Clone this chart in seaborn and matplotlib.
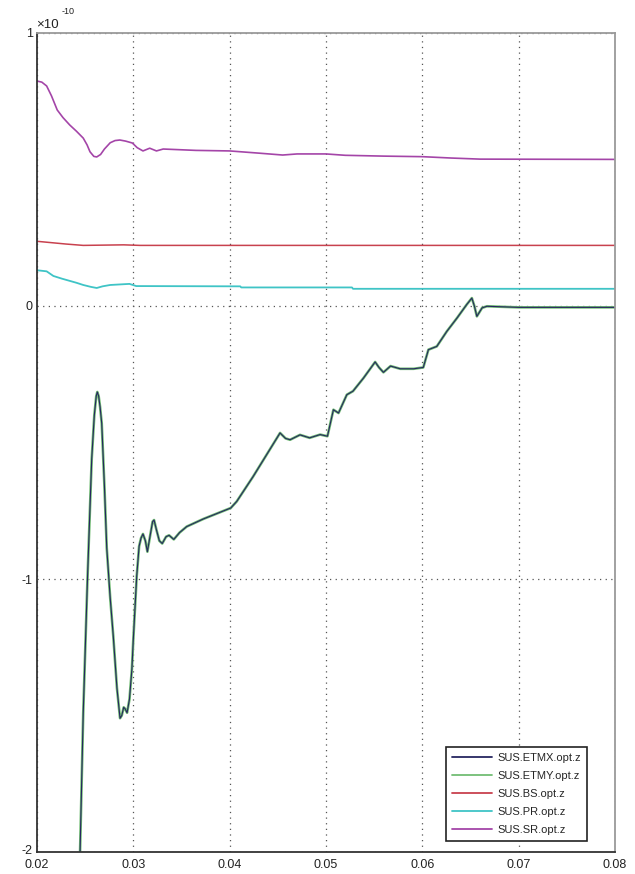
import numpy as np
import pandas as pd
import matplotlib
matplotlib.use("Agg")
import matplotlib.pyplot as plt
import matplotlib.transforms as mtransforms
import seaborn as sns

# Optical-lever z readings, in units of 1e-10
scale = 1e-10

etm_t = [0.02430, 0.02447, 0.02480, 0.02524, 0.02568, 0.02595, 0.02615, 0.02626,
         0.02640, 0.02655, 0.02672, 0.02700, 0.02724, 0.02760, 0.02792, 0.02830,
         0.02862, 0.02880, 0.02900, 0.02914, 0.02935, 0.02960, 0.02985, 0.03000,
         0.03035, 0.03060, 0.03080, 0.03100, 0.03125, 0.03146, 0.03175, 0.03200,
         0.03215, 0.03240, 0.03270, 0.03300, 0.03340, 0.03371, 0.03420, 0.03480,
         0.03554, 0.03727, 0.04011, 0.04073, 0.04243, 0.04523, 0.04580, 0.04627,
         0.04730, 0.04830, 0.04939, 0.05015, 0.05077, 0.05130, 0.05216, 0.05280,
         0.05389, 0.05510, 0.05550, 0.05596, 0.05670, 0.05770, 0.05910, 0.06010,
         0.06063, 0.06150, 0.06254, 0.06360, 0.06460, 0.06514, 0.06540, 0.06566,
         0.06620, 0.06670, 0.07000, 0.08000]
etmy_z = [-2.30, -2.00, -1.49, -1.00, -0.56, -0.40, -0.33, -0.315,
          -0.33, -0.37, -0.43, -0.66, -0.886, -1.07, -1.21, -1.40,
          -1.51, -1.50, -1.47, -1.475, -1.49, -1.44, -1.33, -1.22,
          -0.99, -0.88, -0.85, -0.835, -0.86, -0.90, -0.84, -0.79,
          -0.784, -0.82, -0.86, -0.87, -0.845, -0.84, -0.855, -0.83,
          -0.808, -0.78, -0.74, -0.716, -0.625, -0.465, -0.485, -0.49,
          -0.472, -0.483, -0.471, -0.477, -0.38, -0.392, -0.325, -0.312,
          -0.264, -0.205, -0.225, -0.243, -0.22, -0.23, -0.23, -0.225,
          -0.16, -0.148, -0.093, -0.044, 0.005, 0.029, 0.0, -0.038,
          -0.007, -0.001, -0.005, -0.005]
etmx_z = list(etmy_z)

bs_t = [0.0200, 0.0230, 0.0248, 0.0290, 0.0307, 0.0315, 0.0800]
bs_z = [0.237, 0.227, 0.222, 0.224, 0.222, 0.222, 0.222]

pr_t = [0.0200, 0.0210, 0.0217, 0.0226, 0.0234, 0.0241, 0.0248, 0.0256,
        0.0262, 0.0268, 0.0276, 0.0296, 0.0303, 0.0411, 0.0412, 0.0527,
        0.0528, 0.0800]
pr_z = [0.131, 0.127, 0.110, 0.100, 0.092, 0.085, 0.077, 0.070,
        0.066, 0.072, 0.077, 0.081, 0.073, 0.072, 0.068, 0.068,
        0.063, 0.063]

sr_t = [0.0200, 0.0205, 0.0210, 0.0215, 0.0221, 0.0227, 0.0234, 0.0241,
        0.0248, 0.0252, 0.0255, 0.0259, 0.0262, 0.0266, 0.0270, 0.0276,
        0.0281, 0.0286, 0.0292, 0.0299, 0.0304, 0.0310, 0.0317, 0.0324,
        0.0331, 0.0365, 0.0400, 0.0430, 0.0455, 0.0470, 0.0500, 0.0520,
        0.0560, 0.0600, 0.0630, 0.0660, 0.0800]
sr_z = [0.824, 0.820, 0.806, 0.770, 0.718, 0.690, 0.663, 0.640,
        0.615, 0.590, 0.565, 0.548, 0.546, 0.555, 0.575, 0.598,
        0.606, 0.608, 0.604, 0.597, 0.580, 0.568, 0.578, 0.568,
        0.575, 0.570, 0.568, 0.560, 0.553, 0.557, 0.557, 0.552,
        0.549, 0.547, 0.542, 0.538, 0.537]

labels = ["SUS.ETMX.opt.z", "SUS.ETMY.opt.z", "SUS.BS.opt.z", "SUS.PR.opt.z", "SUS.SR.opt.z"]
colors = {"SUS.ETMX.opt.z": "#262660",
          "SUS.ETMY.opt.z": "#72bd74",
          "SUS.BS.opt.z": "#c8414e",
          "SUS.PR.opt.z": "#3fc4c6",
          "SUS.SR.opt.z": "#a445a8"}
widths = {"SUS.ETMX.opt.z": 0.8, "SUS.ETMY.opt.z": 1.9,
          "SUS.BS.opt.z": 1.1, "SUS.PR.opt.z": 1.3, "SUS.SR.opt.z": 1.2}

frames = []
for name, t, z in [("SUS.ETMX.opt.z", etm_t, etmx_z), ("SUS.ETMY.opt.z", etm_t, etmy_z),
                   ("SUS.BS.opt.z", bs_t, bs_z), ("SUS.PR.opt.z", pr_t, pr_z),
                   ("SUS.SR.opt.z", sr_t, sr_z)]:
    frames.append(pd.DataFrame({"t": t, "z": np.asarray(z) * scale, "signal": name}))
df = pd.concat(frames, ignore_index=True)

sns.set_style("white")
plt.rcParams["font.family"] = ["Liberation Sans", "DejaVu Sans"]
plt.rcParams["axes.unicode_minus"] = False

W, H = 635, 874
fig = plt.figure(figsize=(W / 100, H / 100), dpi=100)
ax = fig.add_axes([37 / W, 1 - 852 / H, (615 - 37) / W, (852 - 33) / H])

# draw order: green first so the dark trace sits on top of it
draw_order = ["SUS.BS.opt.z", "SUS.PR.opt.z", "SUS.SR.opt.z", "SUS.ETMY.opt.z", "SUS.ETMX.opt.z"]
for name in draw_order:
    sns.lineplot(data=df[df["signal"] == name], x="t", y="z", ax=ax,
                 color=colors[name], linewidth=widths[name], estimator=None,
                 sort=False, label=name, legend=False)

ax.set_xlim(0.02, 0.08)
ax.set_ylim(-2 * scale, 1 * scale)
xticks = [0.02, 0.03, 0.04, 0.05, 0.06, 0.07, 0.08]
yticks = [-2, -1, 0, 1]
ax.set_xticks(xticks)
ax.set_xticklabels([f"{v:.2f}" for v in xticks])
ax.set_yticks([v * scale for v in yticks])
ax.set_yticklabels([str(v) for v in yticks])
ax.set_xlabel("")
ax.set_ylabel("")

ax.grid(True, color="#555555", linestyle=(0, (1, 3.5)), linewidth=0.9)
ax.tick_params(axis="both", direction="in", length=7, width=1.3, color="#222222",
               labelsize=9, labelcolor="#222222", top=False, right=False)
ax.tick_params(axis="x", pad=5)
ax.tick_params(axis="y", pad=3)
# lift the lowest y label a little so it clears the first x label
low = ax.get_yticklabels()[0]
low.set_transform(low.get_transform() +
                  mtransforms.ScaledTranslation(0, 3 / 100, fig.dpi_scale_trans))

for side in ["left", "bottom"]:
    ax.spines[side].set_color("#333333")
    ax.spines[side].set_linewidth(1.3)
for side in ["top", "right"]:
    ax.spines[side].set_color("#9a9a9a")
    ax.spines[side].set_linewidth(1.3)

handles = [plt.Line2D([], [], color=colors[n], linewidth=1.3) for n in labels]
leg = ax.legend(handles, labels, loc="lower right",
                bbox_to_anchor=(587 / W, 1 - 841 / H), bbox_transform=fig.transFigure,
                borderaxespad=0, fontsize=8, handlelength=3.6, handletextpad=0.5,
                labelspacing=0.72, borderpad=0.55, fancybox=False, framealpha=1)
leg.get_frame().set_edgecolor("#222222")
leg.get_frame().set_linewidth(1.2)

fig.text(36 / W, 1 - 25 / H, "×10", fontsize=9.5, color="#222222", va="center", ha="left")
fig.text(62 / W, 1 - 12 / H, "-10", fontsize=6.5, color="#222222", va="center", ha="left")

fig.savefig("out.png", dpi=100)
